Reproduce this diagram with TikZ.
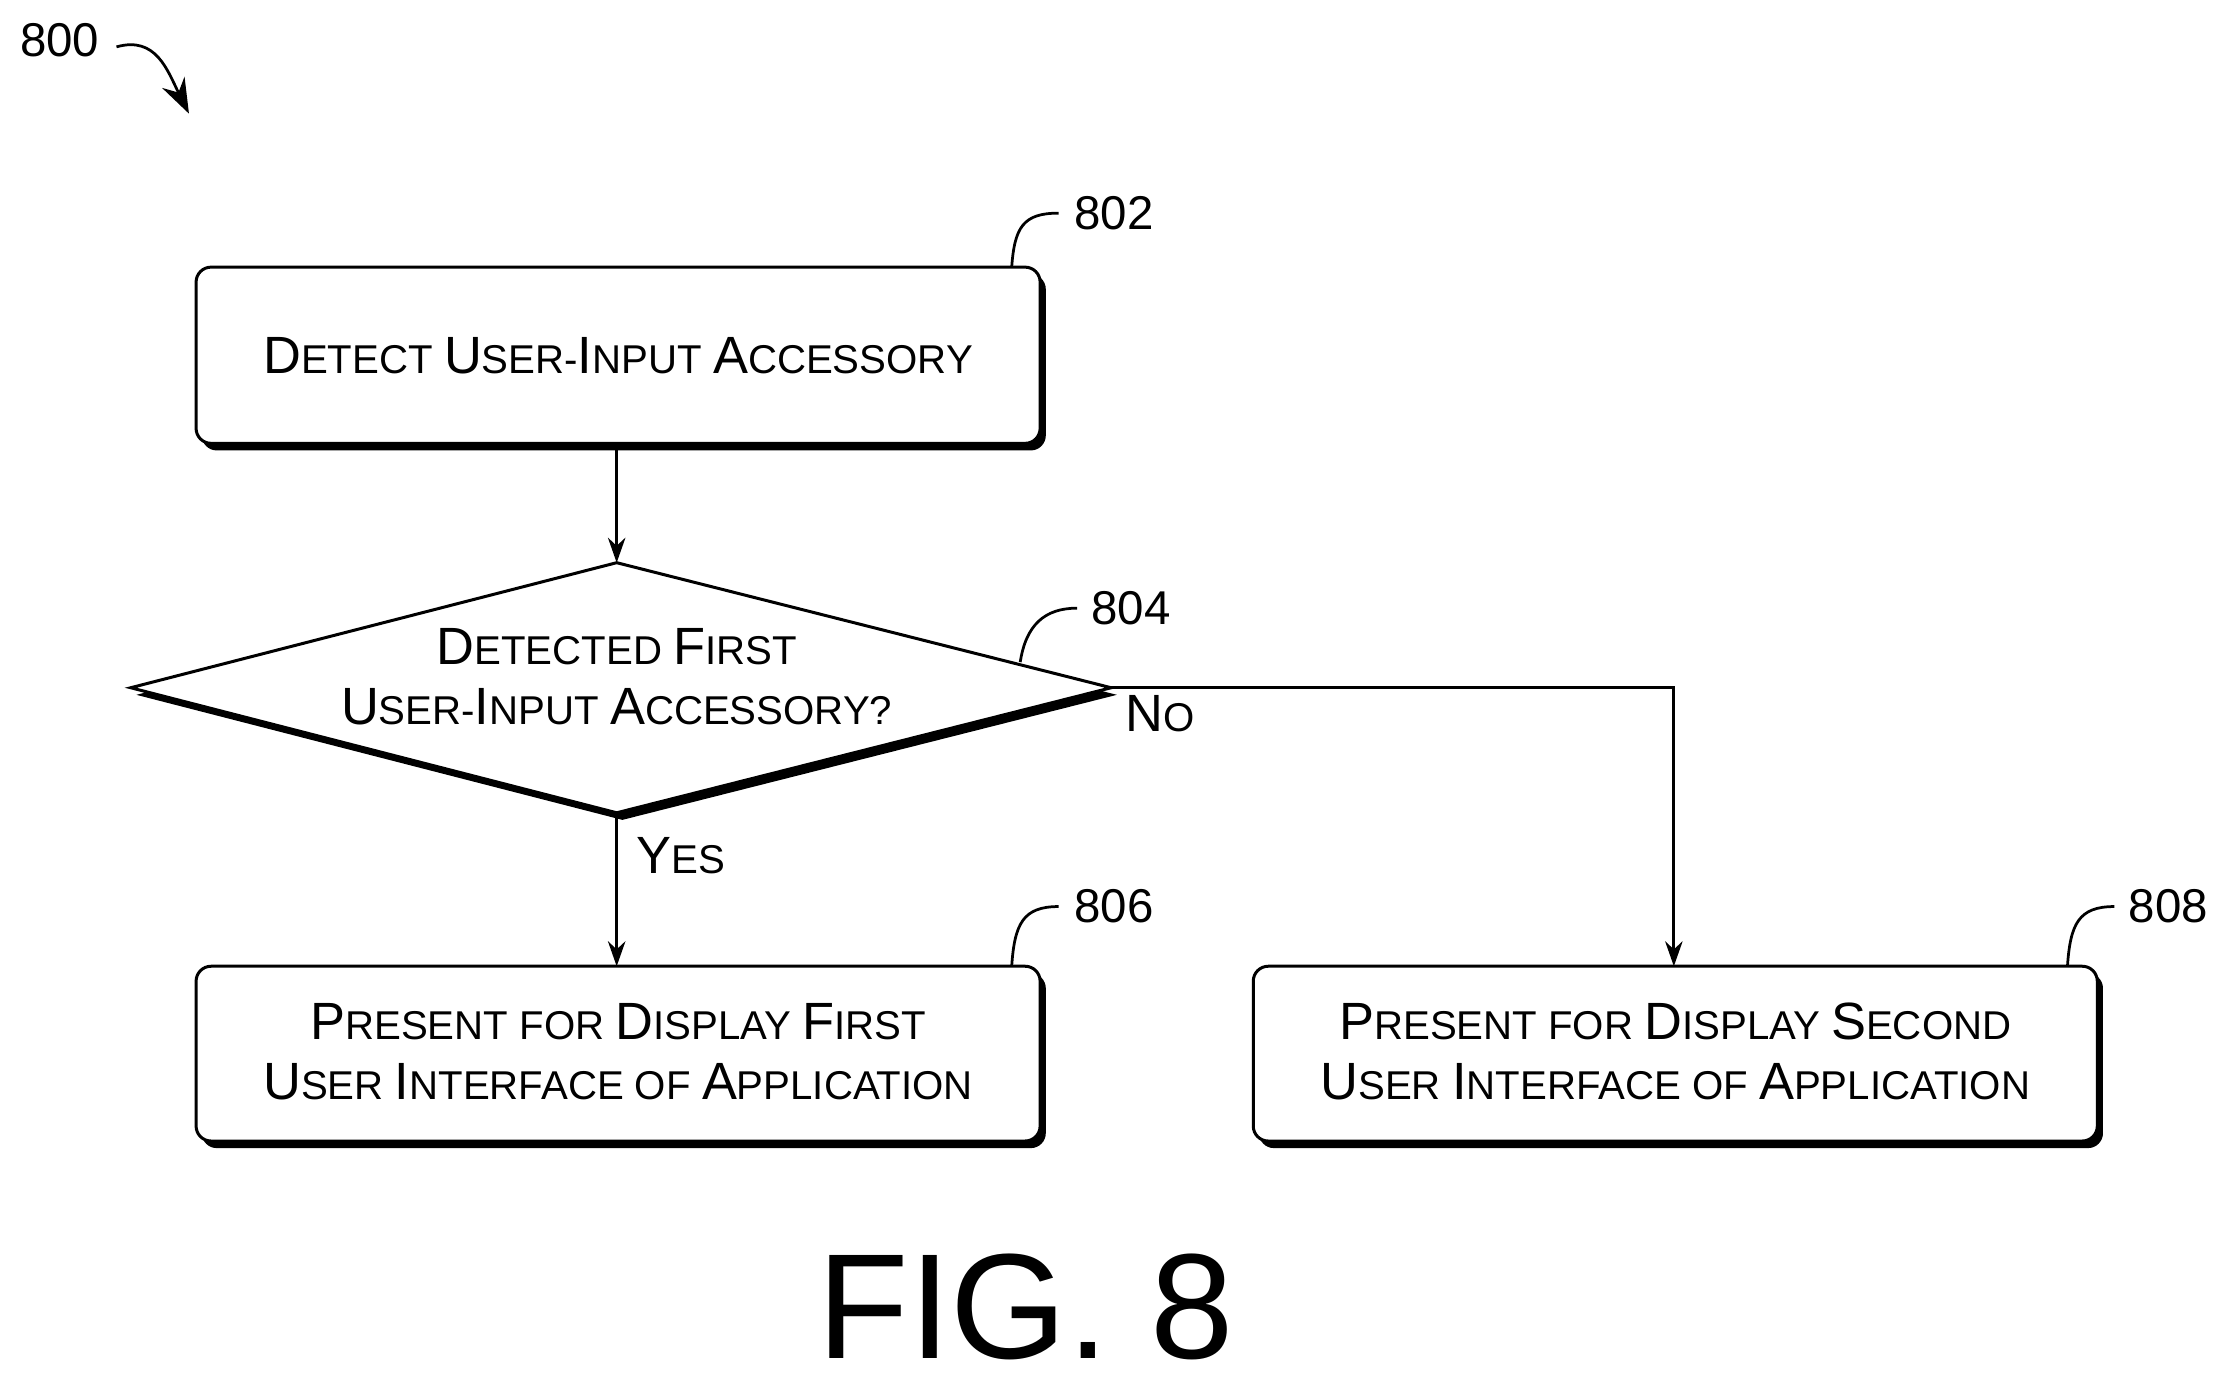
\documentclass[tikz,border=0pt]{standalone}
\usepackage{fontspec}
\setmainfont{Liberation Sans}
\usetikzlibrary{arrows.meta}
\newcommand\C[1]{{\fontsize{21}{24}\selectfont #1}}
\begin{document}
\begin{tikzpicture}[x=0.02cm,y=-0.02cm,
  box/.style={draw,line width=1.2pt,rounded corners=6pt,fill=white},
  shad/.style={fill=black,rounded corners=6pt},
  txt/.style={font=\fontsize{16.1}{24}\selectfont,align=center},
  lbl/.style={font=\fontsize{19}{22}\selectfont},
  arr/.style={line width=1.1pt,-{Stealth[length=10pt,width=7pt]}},
  lead/.style={line width=1.1pt}]
\useasboundingbox (0,0) rectangle (1568,977);
% 800
\node[lbl] (n800) at (42,28) {800};
\coordinate (a800) at (133,80);
\draw[lead,-{Stealth[length=14pt,width=10pt]}] (82,33) .. controls (110,25) and (118,50) .. (a800);
% 802
\fill[shad] (142,193) rectangle (736,317);
\draw[box] (138,188) rectangle (732,312);
\node[txt] (b802) at (435,250) {\C{D}ETECT \C{U}SER-\C{I}NPUT \C{A}CCESSORY};
\node[lbl] (l802) at (784,150) {802};
\draw[lead] (712,188) .. controls (714,160) and (720,150) .. (745,150);
% diamond
\fill (96,489) -- (438,400) -- (786,489) -- (438,577) -- cycle;
\draw[line width=1.2pt,fill=white] (92,484) -- (434,396) -- (782,484) -- (434,572) -- cycle;
\coordinate (dt) at (434,396); \coordinate (db) at (434,572); \coordinate (dr) at (782,484);
\node[txt] (d804) at (434,476) {\C{D}ETECTED \C{F}IRST\\\C{U}SER-\C{I}NPUT \C{A}CCESSORY?};
\node[lbl] (l804) at (796,428) {804};
\draw[lead] (718,466) .. controls (722,440) and (735,428) .. (758,428);
% 806
\fill[shad] (142,685) rectangle (736,808);
\draw[box] (138,680) rectangle (732,803);
\node[txt] (b806) at (435,740) {\C{P}RESENT FOR \C{D}ISPLAY \C{F}IRST\\\C{U}SER \C{I}NTERFACE OF \C{A}PPLICATION};
\node[lbl] (l806) at (784,638) {806};
\draw[lead] (712,680) .. controls (714,650) and (720,638) .. (745,638);
% 808
\fill[shad] (886,685) rectangle (1480,808);
\draw[box] (882,680) rectangle (1476,803);
\node[txt] (b808) at (1179,740) {\C{P}RESENT FOR \C{D}ISPLAY \C{S}ECOND\\\C{U}SER \C{I}NTERFACE OF \C{A}PPLICATION};
\node[lbl] (l808) at (1526,638) {808};
\draw[lead] (1455,680) .. controls (1457,650) and (1463,638) .. (1488,638);
% arrows
\coordinate (t802) at (434,312); \coordinate (t806) at (434,680); \coordinate (t808) at (1178,680);
\draw[arr] (t802) -- (dt);
\draw[arr] (db) -- (t806);
\draw[arr] (dr) -- (1178,484) -- (t808);
\node[txt,anchor=west] (no) at (786,502) {\C{N}O};
\node[txt,anchor=west] (yes) at (442,602) {\C{Y}ES};
\node[font=\fontsize{60}{70}\selectfont,inner sep=0pt] (fig) at (722,920) {FIG. 8};
\end{tikzpicture}
\end{document}
